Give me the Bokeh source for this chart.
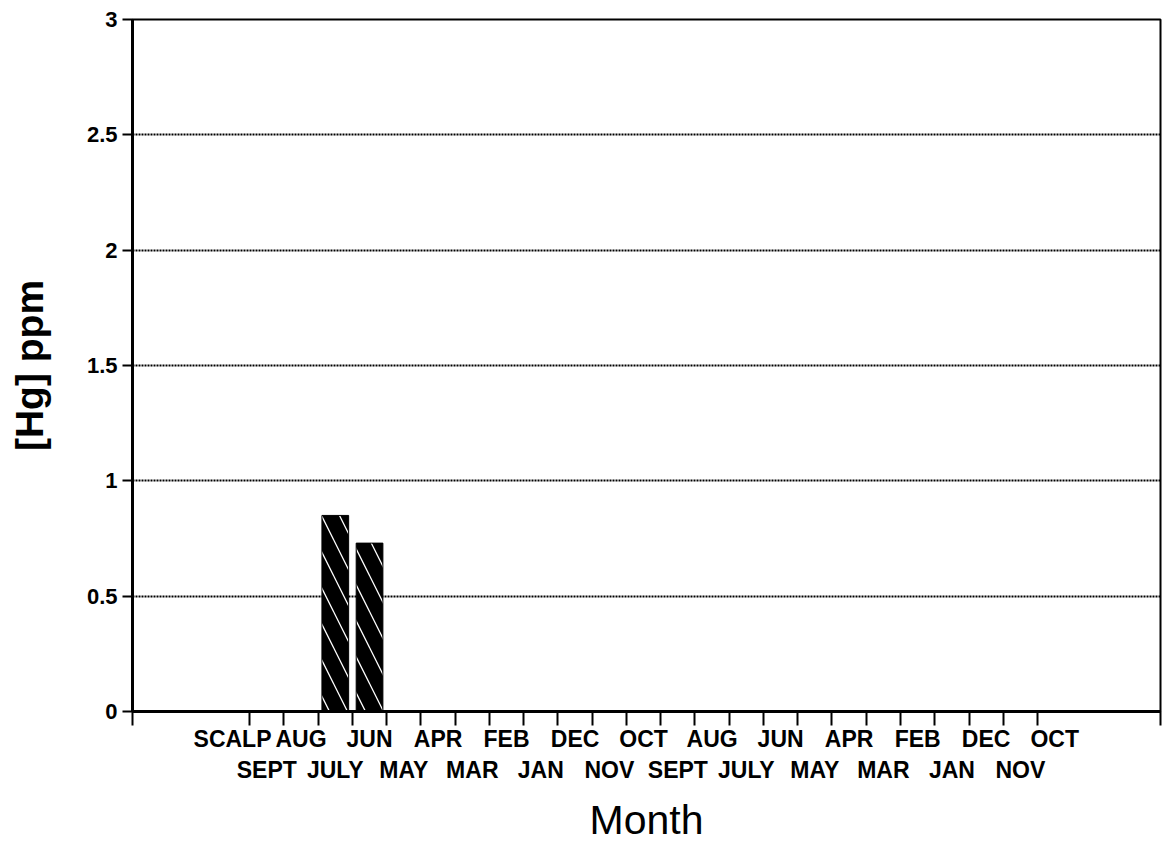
from bokeh.plotting import figure
from bokeh.models import LinearAxis, FixedTicker, Range1d, ColumnDataSource
from bokeh.embed import file_html
from bokeh.resources import INLINE

# ---- data ----
months = ["SCALP", "SEPT", "AUG", "JULY", "JUN", "MAY", "APR", "MAR", "FEB",
          "JAN", "DEC", "NOV", "OCT", "SEPT", "AUG", "JULY", "JUN", "MAY",
          "APR", "MAR", "FEB", "JAN", "DEC", "NOV", "OCT"]
hg_ppm = [None, None, None, 0.85, 0.73, None, None, None, None, None, None, None,
          None, None, None, None, None, None, None, None, None, None, None, None, None]
y_ticks = [0, 0.5, 1, 1.5, 2, 2.5, 3]
y_tick_labels = ["0", "0.5", "1", "1.5", "2", "2.5", "3"]

x_lo, x_hi = -2.92, 27.09

bx = [i for i, v in enumerate(hg_ppm) if v is not None]
bt = [v for v in hg_ppm if v is not None]
src = ColumnDataSource(dict(x=bx, top=bt))

p = figure(width=1163, height=845, x_range=Range1d(x_lo, x_hi), y_range=Range1d(0, 3),
           output_backend="svg", toolbar_location=None,
           min_border_left=132, min_border_top=19, min_border_right=3, min_border_bottom=133)

p.vbar(x="x", top="top", width=0.78, source=src, fill_color="black", line_color="black",
       hatch_pattern="\\", hatch_color="white", hatch_scale=36, hatch_weight=1.3)

FONT = "Liberation Sans"

# grid / outline
p.xgrid.visible = False
p.ygrid.ticker = FixedTicker(ticks=y_ticks)
p.ygrid.grid_line_color = "black"
p.ygrid.grid_line_dash = "2 1"
p.ygrid.grid_line_width = 2
p.outline_line_color = "black"
p.outline_line_width = 2
p.background_fill_color = "white"
p.border_fill_color = "white"

# y axis
ya = p.yaxis[0]
ya.ticker = FixedTicker(ticks=y_ticks, minor_ticks=[])
ya.major_label_overrides = {t: l for t, l in zip(y_ticks, y_tick_labels)}
ya.axis_line_width = 3
ya.major_tick_line_width = 2
ya.major_tick_out = 10
ya.major_tick_in = 0
ya.minor_tick_line_color = None
ya.major_label_standoff = 5
ya.major_label_text_font = FONT
ya.major_label_text_font_style = "bold"
ya.major_label_text_font_size = "22px"
ya.major_label_text_color = "black"
ya.axis_label = "[Hg] ppm"
ya.axis_label_text_font = FONT
ya.axis_label_text_font_style = "bold"
ya.axis_label_text_font_size = "39px"
ya.axis_label_text_color = "black"
ya.axis_label_standoff = 33

# x axis: top-row labels + boundary ticks
even_idx = list(range(0, len(months), 2))
odd_idx = list(range(1, len(months), 2))
bounds = [x_lo + 0.01] + [i + 0.5 for i in range(len(months) - 1)] + [x_hi - 0.01]

xa = p.xaxis[0]
xa.ticker = FixedTicker(ticks=even_idx, minor_ticks=bounds)
xa.major_label_overrides = {i: months[i] for i in even_idx}
xa.axis_line_width = 3
xa.major_tick_line_color = None
xa.major_tick_out = 11
xa.major_tick_in = 0
xa.minor_tick_line_color = "black"
xa.minor_tick_line_width = 2
xa.minor_tick_out = 14
xa.minor_tick_in = 0
xa.major_label_standoff = 0
xa.major_label_text_font = FONT
xa.major_label_text_font_style = "bold"
xa.major_label_text_font_size = "23px"
xa.major_label_text_color = "black"

# x axis: bottom-row labels + axis title
xb = LinearAxis(ticker=FixedTicker(ticks=odd_idx, minor_ticks=[]))
xb.major_label_overrides = {i: months[i] for i in odd_idx}
xb.axis_line_color = None
xb.major_tick_line_color = None
xb.minor_tick_line_color = None
xb.major_tick_out = 0
xb.major_tick_in = 0
xb.major_label_standoff = 2
xb.major_label_text_font = FONT
xb.major_label_text_font_style = "bold"
xb.major_label_text_font_size = "23px"
xb.major_label_text_color = "black"
xb.axis_label = "Month"
xb.axis_label_text_font = FONT
xb.axis_label_text_font_style = "normal"
xb.axis_label_text_font_size = "41px"
xb.axis_label_text_color = "black"
xb.axis_label_standoff = 11
p.add_layout(xb, "below")

open("out.html", "w").write(file_html(p, INLINE))
